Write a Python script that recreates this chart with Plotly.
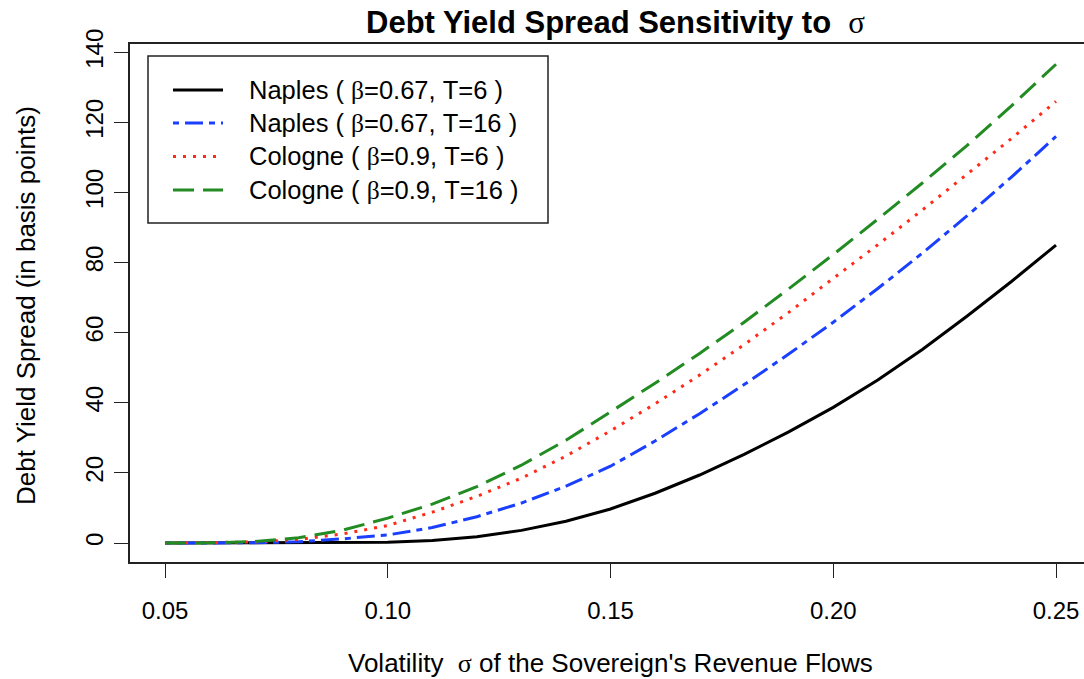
import plotly.graph_objects as go

# Volatility grid and model spreads (basis points)
sigma = [0.05, 0.06, 0.07, 0.08, 0.09, 0.10, 0.11, 0.12, 0.13, 0.14, 0.15,
         0.16, 0.17, 0.18, 0.19, 0.20, 0.21, 0.22, 0.23, 0.24, 0.25]
naples_t6 = [0.0, 0.0, 0.0, 0.0, 0.03, 0.2, 0.7, 1.8, 3.6, 6.2, 9.7,
             14.2, 19.4, 25.3, 31.7, 38.7, 46.5, 55.2, 64.7, 74.6, 85.0]
naples_t16 = [0.0, 0.0, 0.05, 0.35, 1.2, 2.3, 4.4, 7.5, 11.4, 16.2, 21.9,
              29.1, 36.9, 45.2, 53.9, 63.0, 72.6, 82.7, 93.3, 104.4, 116.0]
cologne_t6 = [0.0, 0.05, 0.3, 1.0, 2.6, 5.0, 8.8, 13.3, 18.5, 24.8, 32.0,
              39.7, 47.9, 56.6, 65.8, 75.5, 85.1, 95.0, 105.1, 115.4, 126.0]
cologne_t16 = [0.0, 0.05, 0.4, 1.5, 3.7, 7.1, 11.1, 16.1, 22.2, 29.3, 37.4,
               45.6, 54.1, 63.0, 72.5, 82.3, 92.4, 102.7, 113.4, 124.7, 136.6]

series_labels = ["Naples ( β=0.67, T=6 )", "Naples ( β=0.67, T=16 )",
                 "Cologne ( β=0.9, T=6 )", "Cologne ( β=0.9, T=16 )"]
x_ticks = [0.05, 0.10, 0.15, 0.20, 0.25]
y_ticks = [0, 20, 40, 60, 80, 100, 120, 140]

SANS = "Liberation Sans, Arial, Helvetica, sans-serif"
SERIF = "Liberation Serif, Times New Roman, serif"

styles = [
    dict(color="#000000", dash="solid"),
    dict(color="#1a3fff", dash="6px,6px,18px,6px"),
    dict(color="#ff2a1a", dash="3px,7px"),
    dict(color="#228b22", dash="21px,9px"),
]
values = [naples_t6, naples_t16, cologne_t6, cologne_t16]

W, H = 1084, 679
ML, MR, MT, MB = 130, 0, 44, 117
PW, PH = W - ML - MR, H - MT - MB


def px(xp):
    return (xp - ML) / PW


def py(yp):
    return (H - MB - yp) / PH


fig = go.Figure()
for name, vals, st in zip(series_labels, values, styles):
    fig.add_trace(go.Scatter(
        x=sigma, y=vals, mode="lines", name=name, showlegend=False,
        line=dict(color=st["color"], dash=st["dash"], width=3),
    ))

# Legend box drawn by hand (R-style)
shapes = [dict(type="rect", xref="paper", yref="paper",
               x0=px(148), x1=px(548), y0=py(223), y1=py(56),
               line=dict(color="#222", width=1.5), fillcolor="white", layer="below")]
annotations = []
row_y = [90, 123, 156.5, 190]
for name, st, ry in zip(series_labels, styles, row_y):
    shapes.append(dict(type="line", xref="paper", yref="paper",
                       x0=px(173), x1=px(223), y0=py(ry), y1=py(ry),
                       line=dict(color=st["color"], dash=st["dash"], width=3)))
    label = name.replace("β", f"<span style='font-family:{SERIF}'>β</span>")
    annotations.append(dict(xref="paper", yref="paper", x=px(247), y=py(ry),
                            text=label, showarrow=False, xanchor="left", yanchor="middle",
                            font=dict(family=SANS, size=25.5, color="black")))

sig = f"<span style='font-family:{SERIF};font-weight:normal'>σ</span>"
annotations.append(dict(xref="paper", yref="paper", x=px(615), y=py(22),
                        text=f"<b>Debt Yield Spread Sensitivity to</b>  {sig}",
                        showarrow=False, xanchor="center", yanchor="middle",
                        font=dict(family=SANS, size=31, color="black")))
annotations.append(dict(xref="paper", yref="paper", x=px(610), y=py(663),
                        text=f"Volatility  {sig} of the Sovereign's Revenue Flows",
                        showarrow=False, xanchor="center", yanchor="middle",
                        font=dict(family=SANS, size=26, color="black")))
annotations.append(dict(xref="paper", yref="paper", x=px(26), y=py(306),
                        text="Debt Yield Spread (in basis points)", textangle=-90,
                        showarrow=False, xanchor="center", yanchor="middle",
                        font=dict(family=SANS, size=26, color="black")))

x0 = 0.05 - (165 - ML) / 4455.0
x1 = 0.05 + (W - MR - 165) / 4455.0
y0 = -(H - MB - 543) / 3.505
y1 = (543 - MT) / 3.505

fig.update_layout(
    width=W, height=H,
    margin=dict(l=ML, r=MR, t=MT, b=MB, pad=0),
    paper_bgcolor="white", plot_bgcolor="white",
    shapes=shapes, annotations=annotations,
    font=dict(family=SANS, color="black"),
    xaxis=dict(range=[x0, x1], tickvals=x_ticks, tickformat=".2f",
               showgrid=False, zeroline=False,
               showline=True, mirror=True, linecolor="#222", linewidth=1.5,
               ticks="outside", ticklen=14, tickwidth=1.2, tickcolor="#222",
               tickfont=dict(family=SANS, size=24, color="black"),
               ticklabelstandoff=12),
    yaxis=dict(range=[y0, y1], tickvals=y_ticks,
               showgrid=False, zeroline=False,
               showline=True, mirror=False, linecolor="#222", linewidth=1.5,
               ticks="outside", ticklen=14, tickwidth=1.2, tickcolor="#222",
               tickangle=-90,
               tickfont=dict(family=SANS, size=24, color="black"),
               ticklabelstandoff=2),
)

fig.write_html("out.html")
